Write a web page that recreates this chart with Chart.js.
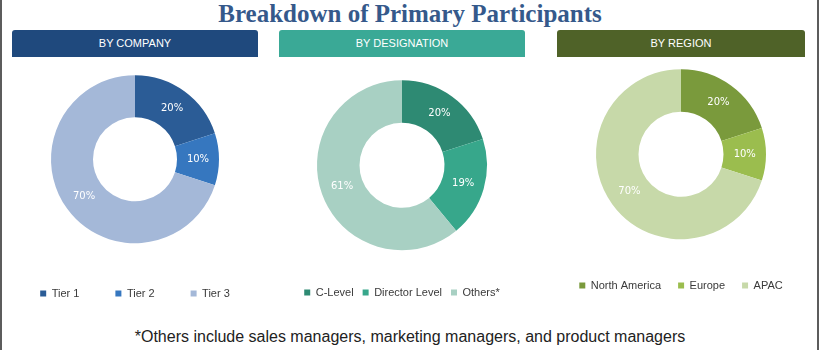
<!DOCTYPE html>
<html>
<head>
<meta charset="utf-8">
<title>Breakdown of Primary Participants</title>
<script src="https://cdn.jsdelivr.net/npm/chart.js@4.4.0/dist/chart.umd.min.js"></script>
<style>
    html, body { margin: 0; padding: 0; }
    body {
        width: 820px; height: 350px; position: relative; overflow: hidden;
        background: #fff; font-family: "Liberation Sans", Arial, sans-serif;
    }
    .frame { position: absolute; top: 0; width: 2px; height: 350px; background: #5c5c5c; }
    h1 {
        position: absolute; left: 0; top: -1px; width: 820px; margin: 0;
        text-align: center; font: bold 25px/29px "Liberation Serif", serif; color: #35598b;
    }
    .bar {
        position: absolute; top: 30px; height: 27px; border-radius: 3px 3px 0 0;
        color: #fff; text-align: center; z-index: 2;
        font: 11px/27px "Liberation Sans Narrow", "Arial Narrow", "Liberation Sans", sans-serif;
    }
    canvas { position: absolute; z-index: 1; }
    .note {
        position: absolute; left: 0; top: 327px; width: 820px; text-align: center;
        font: 16px/19px "Liberation Sans", Arial, sans-serif; color: #222;
    }
</style>
</head>
<body>
<div class="frame" style="left:0"></div>
<div class="frame" style="left:817px"></div>
<h1>Breakdown of Primary Participants</h1>

<div class="bar" style="left:12px;width:246px;background:#1f497d">BY COMPANY</div>
<div class="bar" style="left:279px;width:246px;background:#3aa996">BY DESIGNATION</div>
<div class="bar" style="left:557px;width:248px;background:#4f6228">BY REGION</div>

<canvas id="companyChart"></canvas>
<canvas id="designationChart"></canvas>
<canvas id="regionChart"></canvas>

<div class="note">*Others include sales managers, marketing managers, and product managers</div>

<script>
// Shares of primary interviews (%)
const companyLabels = ['Tier 1', 'Tier 2', 'Tier 3'];
const companyShares = [20, 10, 70];

const designationLabels = ['C-Level', 'Director Level', 'Others*'];
const designationShares = [20, 19, 61];

const regionLabels = ['North America', 'Europe', 'APAC'];
const regionShares = [20, 10, 70];

const companyColors = ['#2b5c96', '#3677bf', '#a4b8d8'];
const designationColors = ['#2e8a73', '#37a78b', '#a8d0c3'];
const regionColors = ['#7a9a3c', '#9bbd4e', '#c7d9a9'];

const LEGEND_FONT = 11;

// Percent labels written at the middle of each slice
const sliceLabels = {
    id: 'sliceLabels',
    afterDatasetsDraw(chart) {
        const ctx = chart.ctx;
        const values = chart.data.datasets[0].data;
        ctx.save();
        ctx.font = '10px "DejaVu Sans", sans-serif';
        ctx.fillStyle = '#ffffff';
        ctx.textAlign = 'center';
        ctx.textBaseline = 'middle';
        chart.getDatasetMeta(0).data.forEach((arc, i) => {
            const p = arc.tooltipPosition();
            ctx.fillText(values[i] + '%', p.x, p.y);
        });
        ctx.restore();
    }
};

// box: donut centre/radius, legend text line and the gap between legend items
function makeDonut(id, labels, values, colors, box) {
    const canvas = document.getElementById(id);
    const legendTop = box.legendY - LEGEND_FONT / 2 - box.gap;
    const areaTop = 2 * box.cy - legendTop;
    const height = Math.round(legendTop + LEGEND_FONT + box.gap + 10 - box.top);

    canvas.width = box.width;
    canvas.height = height;
    canvas.style.left = (box.cx - box.width / 2) + 'px';
    canvas.style.top = box.top + 'px';

    return new Chart(canvas.getContext('2d'), {
        type: 'doughnut',
        data: {
            labels: labels,
            datasets: [{
                data: values,
                backgroundColor: colors,
                borderWidth: 0
            }]
        },
        options: {
            responsive: false,
            animation: false,
            radius: box.r,
            cutout: '50%',
            layout: { padding: { top: areaTop - box.top } },
            plugins: {
                legend: {
                    position: 'bottom',
                    labels: {
                        boxWidth: 6,
                        boxHeight: 6,
                        padding: box.gap,
                        color: '#3a3a3a',
                        font: { size: LEGEND_FONT, family: '"Liberation Sans", Arial, sans-serif' }
                    }
                },
                tooltip: { enabled: false }
            }
        },
        plugins: [sliceLabels]
    });
}

makeDonut('companyChart', companyLabels, companyShares, companyColors,
    { cx: 135, cy: 159, r: 84, legendY: 293, gap: 36, top: 60, width: 270 });
makeDonut('designationChart', designationLabels, designationShares, designationColors,
    { cx: 402, cy: 165, r: 85, legendY: 292, gap: 9, top: 40, width: 260 });
makeDonut('regionChart', regionLabels, regionShares, regionColors,
    { cx: 681, cy: 154, r: 85, legendY: 285, gap: 17, top: 40, width: 260 });
</script>
</body>
</html>
